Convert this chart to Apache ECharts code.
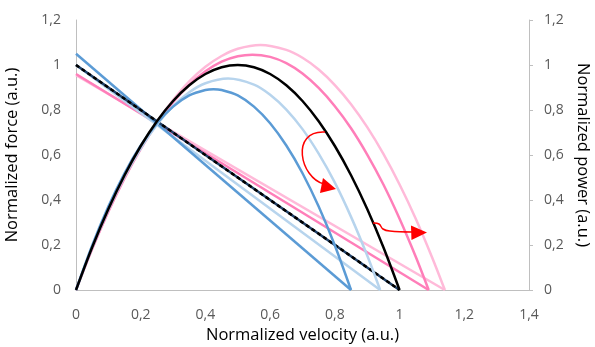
<!DOCTYPE html>
<html><head><meta charset="utf-8">
<script src="https://cdn.jsdelivr.net/npm/echarts@6/dist/echarts.min.js"></script>
<style>html,body{margin:0;padding:0;background:#fff}#c{width:595px;height:347px}</style>
</head><body><div id="c"></div>
<script>
// Axis ticks
var xTicks = [0, 0.2, 0.4, 0.6, 0.8, 1, 1.2, 1.4];
var yTicks = [0, 0.2, 0.4, 0.6, 0.8, 1, 1.2];

// Force-velocity lines [velocity, force]
var forceBlueDark  = [[0, 1.05], [0.85, 0]];
var forceBlueLight = [[0, 1.00], [0.94, 0]];
var forceBlack     = [[0, 1.00], [1.00, 0]];
var forcePink      = [[0, 0.96], [1.09, 0]];
var forcePinkLight = [[0, 0.955], [1.14, 0]];

// Power-velocity curves [velocity, power]
var powerBlueDark = [[0,0],[0.05,0.198],[0.1,0.371],[0.15,0.519],[0.2,0.642],[0.25,0.741],[0.3,0.815],[0.35,0.865],[0.4,0.889],[0.425,0.8925],[0.45,0.889],[0.5,0.865],[0.55,0.815],[0.6,0.741],[0.65,0.642],[0.7,0.519],[0.75,0.371],[0.8,0.198],[0.85,0]];
var powerBlueLight = [[0,0],[0.05,0.189],[0.1,0.357],[0.15,0.504],[0.2,0.630],[0.25,0.734],[0.3,0.817],[0.35,0.879],[0.4,0.919],[0.47,0.94],[0.55,0.913],[0.6,0.868],[0.65,0.802],[0.7,0.715],[0.75,0.606],[0.8,0.477],[0.85,0.325],[0.9,0.153],[0.94,0]];
var powerBlack = [[0,0],[0.05,0.19],[0.1,0.36],[0.15,0.51],[0.2,0.64],[0.25,0.75],[0.3,0.84],[0.35,0.91],[0.4,0.96],[0.45,0.99],[0.5,1],[0.55,0.99],[0.6,0.96],[0.65,0.91],[0.7,0.84],[0.75,0.75],[0.8,0.64],[0.85,0.51],[0.9,0.36],[0.95,0.19],[1,0]];
var powerPink = [[0,0],[0.05,0.183],[0.1,0.349],[0.15,0.497],[0.2,0.627],[0.25,0.740],[0.3,0.835],[0.35,0.912],[0.4,0.972],[0.45,1.015],[0.5,1.039],[0.545,1.046],[0.6,1.036],[0.65,1.008],[0.7,0.962],[0.75,0.898],[0.8,0.817],[0.85,0.719],[0.9,0.602],[0.95,0.469],[1.0,0.317],[1.05,0.148],[1.09,0]];
var powerPinkLight = [[0,0],[0.05,0.183],[0.1,0.349],[0.15,0.498],[0.2,0.630],[0.25,0.746],[0.3,0.844],[0.35,0.927],[0.4,0.992],[0.45,1.040],[0.5,1.072],[0.57,1.089],[0.65,1.067],[0.7,1.032],[0.75,0.980],[0.8,0.911],[0.85,0.826],[0.9,0.724],[0.95,0.605],[1.0,0.469],[1.05,0.317],[1.1,0.147],[1.14,0]];

// Annotation arrows (data coordinates)
var arrow1Curve = {start:[0.7695,0.702], cp1:[0.6613,0.711], cp2:[0.6922,0.498], end:[0.7664,0.471]};
var arrow1Head = [[0.7633,0.4978],[0.754,0.4311],[0.8035,0.4489]];
var arrow2Path = [[0.9178,0.2978],[0.9364,0.2933],[0.9487,0.2711],[0.97,0.262],[1.0383,0.2578]];
var arrow2Head = [[1.0352,0.2867],[1.0368,0.2222],[1.0847,0.2556]];

var C = {blueDark:'#5b9bd5', blueLight:'#b7d4ed', black:'#000000', pink:'#ff7eb9', pinkLight:'#ffbad9'};
var FONT = 'Open Sans';
function fmt(v){ var r = Math.round(v*10)/10; return String(r).replace('.', ','); }

var chart = echarts.init(document.getElementById('c'), null, {renderer:'canvas'});

function line(data, color, w, extra){
  var s = {type:'line', data:data, showSymbol:false, symbol:'none', silent:true, animation:false,
    lineStyle:{color:color, width:w}, z:2};
  if (extra) for (var k in extra) s[k] = extra[k];
  return s;
}

var axisLabel = {color:'#595959', fontFamily:FONT, fontSize:14, formatter:fmt};
var nameStyle = {color:'#000', fontFamily:FONT, fontSize:16.5};
var option = {
  animation:false,
  grid:{left:76, right:66, top:20, bottom:57, containLabel:false, outerBoundsMode:'none'},
  xAxis:{type:'value', min:0, max:1.4, interval:0.2,
    name:'Normalized velocity (a.u.)', nameLocation:'middle', nameGap:34,
    nameTextStyle:nameStyle,
    axisLine:{show:true, lineStyle:{color:'#bfbfbf', width:1}},
    axisTick:{show:false}, splitLine:{show:false},
    axisLabel:Object.assign({margin:18}, axisLabel)},
  yAxis:[
    {type:'value', min:0, max:1.2, interval:0.2, position:'left',
      name:'Normalized force (a.u.)', nameLocation:'middle', nameGap:55, nameRotate:90,
      nameTextStyle:nameStyle,
      axisLine:{show:true, lineStyle:{color:'#bfbfbf', width:1}},
      axisTick:{show:false}, splitLine:{show:false},
      axisLabel:Object.assign({margin:15}, axisLabel)},
    {type:'value', min:0, max:1.2, interval:0.2, position:'right',
      name:'Normalized power (a.u.)', nameLocation:'middle', nameGap:45, nameRotate:-90,
      nameTextStyle:nameStyle,
      axisLine:{show:true, lineStyle:{color:'#bfbfbf', width:1}},
      axisTick:{show:true, inside:false, length:4, lineStyle:{color:'#bfbfbf'}}, splitLine:{show:false},
      axisLabel:Object.assign({margin:15}, axisLabel)}
  ],
  series:[
    line(forcePinkLight, C.pinkLight, 2.5),
    line(forcePink, C.pink, 2.5),
    line(forceBlueLight, C.blueLight, 2.5),
    line(forceBlueDark, C.blueDark, 2.5),
    line(forceBlack, '#1f3f66', 2.5),
    line(forceBlack, C.black, 2.5, {lineStyle:{color:C.black, width:2.5, type:[4,3]}}),
    line(powerPinkLight, C.pinkLight, 2.5, {yAxisIndex:1, smooth:0.3}),
    line(powerPink, C.pink, 2.5, {yAxisIndex:1, smooth:0.3}),
    line(powerBlueLight, C.blueLight, 2.5, {yAxisIndex:1, smooth:0.3}),
    line(powerBlueDark, C.blueDark, 2.5, {yAxisIndex:1, smooth:0.3}),
    line(powerBlack, C.black, 2.5, {yAxisIndex:1, smooth:0.3})
  ]
};
chart.setOption(option);

function px(p){ return chart.convertToPixel({xAxisIndex:0, yAxisIndex:0}, p); }
var s = px(arrow1Curve.start), c1 = px(arrow1Curve.cp1), c2 = px(arrow1Curve.cp2), e = px(arrow1Curve.end);
chart.setOption({graphic:[
  {type:'bezierCurve', z:100, shape:{x1:s[0], y1:s[1], cpx1:c1[0], cpy1:c1[1], cpx2:c2[0], cpy2:c2[1], x2:e[0], y2:e[1]},
    style:{stroke:'#ff0000', lineWidth:1.5, fill:null}},
  {type:'polygon', z:100, shape:{points:arrow1Head.map(px)}, style:{fill:'#ff0000'}},
  {type:'polyline', z:100, shape:{points:arrow2Path.map(px), smooth:0.4}, style:{stroke:'#ff0000', lineWidth:1.5, fill:null}},
  {type:'polygon', z:100, shape:{points:arrow2Head.map(px)}, style:{fill:'#ff0000'}}
]});
</script></body></html>
